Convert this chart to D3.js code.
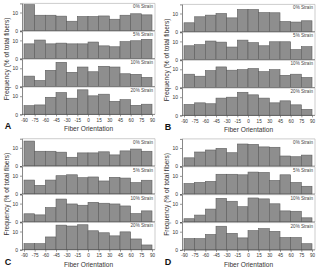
<!DOCTYPE html>
<html>
<head>
<meta charset="utf-8">
<script src="https://cdn.jsdelivr.net/npm/d3@7"></script>
<style>
  body { margin: 0; background: #fff; }
  svg { display: block; font-family: "Liberation Sans", Arial, sans-serif; }
</style>
</head>
<body>
<svg id="svg" width="320" height="269"></svg>
<script>
const $svg = d3.select('#svg')

// data (% of total fibres per 15 degree bin)
const binStarts = [-90, -75, -60, -45, -30, -15, 0, 15, 30, 45, 60, 75]
const orientTicks = [-90, -75, -60, -45, -30, -15, 0, 15, 30, 45, 60, 75, 90]
const strainLabels = ['0% Strain', '5% Strain', '10% Strain', '20% Strain']
const yTicks = [0, 10]
const panelLetters = ['A', 'B', 'C', 'D']

const panelA = [
	[14.3, 8.5, 8.5, 8.0, 5.2, 7.8, 7.8, 8.1, 6.3, 8.5, 9.3, 8.7],
	[8.1, 10.2, 8.1, 8.5, 8.1, 8.1, 9.1, 7.0, 6.5, 9.3, 9.8, 10.6],
	[5.7, 3.3, 8.9, 13.3, 7.8, 10.7, 8.1, 11.1, 10.7, 7.0, 6.7, 5.0],
	[4.8, 5.2, 9.4, 12.0, 8.9, 13.5, 10.2, 11.1, 7.2, 8.1, 5.0, 5.6],
]
const panelB = [
	[4.9, 8.2, 9.1, 10.0, 7.6, 12.2, 12.2, 10.5, 10.4, 5.6, 5.3, 6.0],
	[7.6, 8.2, 10.2, 9.6, 6.9, 10.7, 9.3, 7.6, 9.8, 9.8, 5.5, 7.1],
	[7.3, 6.2, 9.3, 11.3, 9.5, 9.8, 10.4, 8.7, 9.8, 6.7, 7.3, 5.5],
	[6.0, 6.9, 6.4, 9.5, 10.0, 12.7, 11.3, 9.5, 6.9, 8.0, 5.8, 3.3],
]
const panelC = [
	[13.7, 8.1, 8.1, 7.6, 4.8, 7.2, 7.2, 7.8, 6.1, 8.3, 9.3, 8.1],
	[7.6, 4.7, 7.6, 10.0, 10.5, 8.9, 9.3, 7.1, 9.1, 8.7, 6.2, 7.5],
	[4.4, 3.8, 7.8, 12.5, 9.8, 9.1, 10.7, 10.2, 9.8, 8.7, 4.5, 6.0],
	[3.3, 3.3, 7.0, 13.5, 13.0, 13.7, 10.4, 9.3, 7.6, 9.8, 5.9, 2.6],
]
const panelD = [
	[4.6, 7.8, 8.9, 9.8, 7.4, 12.2, 12.0, 10.6, 10.4, 5.6, 5.2, 6.1],
	[5.8, 6.4, 7.0, 10.9, 10.9, 10.6, 12.1, 11.9, 7.5, 10.6, 6.4, 4.3],
	[1.8, 3.8, 7.1, 13.0, 11.4, 8.4, 13.2, 12.7, 10.0, 6.1, 5.9, 2.3],
	[6.2, 6.2, 8.5, 13.0, 9.1, 6.6, 10.6, 11.7, 10.2, 6.8, 6.8, 3.4],
]
const panelData = [panelA, panelB, panelC, panelD]

// layout
const panelPos = [
	{ left: 22, base: 30.7 },
	{ left: 182, base: 31.7 },
	{ left: 22, base: 166 },
	{ left: 182, base: 166.2 },
]
const PLOT_W = 133
const ROW_STEP = 27.9
const ROW_H = 27.3

const drawPanel = (rows, pos, letter) => {
	const g = $svg.append('g').attr('transform', `translate(${pos.left},0)`)

	const x = d3.scaleLinear().domain([-90, 90]).range([2, PLOT_W - 3])
	const y = d3.scaleLinear().domain([0, 15]).range([0, -ROW_H])

	rows.forEach((vals, i) => {
		const base = pos.base + i * ROW_STEP
		const row = g.append('g').attr('transform', `translate(0,${base})`)

		// frame: top and right edges light grey
		row.append('path')
			.attr('d', `M0,${-ROW_H}H${PLOT_W}V0`)
			.attr('fill', 'none')
			.attr('stroke', '#b8b8b8')
			.attr('stroke-width', 0.7)

		row.selectAll('rect.bar')
			.data(vals)
			.join('rect')
			.attr('class', 'bar')
			.attr('x', (d, j) => x(binStarts[j]))
			.attr('width', (d, j) => x(binStarts[j] + 15) - x(binStarts[j]))
			.attr('y', d => y(d))
			.attr('height', d => -y(d))
			.attr('fill', '#8e8e8e')
			.attr('stroke', '#5e5e5e')
			.attr('stroke-width', 0.6)

		// y axis
		const yAxis = row.append('g').call(d3.axisLeft(y).tickValues(yTicks).tickSize(2).tickPadding(2))
		yAxis.select('.domain').attr('stroke', '#555').attr('stroke-width', 0.7)
		yAxis.selectAll('.tick line').attr('stroke', '#555').attr('stroke-width', 0.6)
		yAxis.selectAll('text').attr('font-size', 5).attr('fill', '#333')

		// baseline axis, labels only under the last row
		const xAxis = row.append('g')
			.call(d3.axisBottom(x).tickValues(orientTicks).tickSize(i === 3 ? 2 : 0).tickFormat(d => i === 3 ? String(d) : ''))
		xAxis.select('.domain').attr('d', `M0,0H${PLOT_W}`).attr('stroke', '#555').attr('stroke-width', 0.7)
		xAxis.selectAll('.tick line').attr('stroke', '#555').attr('stroke-width', 0.6)
		xAxis.selectAll('text').attr('font-size', 4.6).attr('fill', '#333').attr('dy', '0.55em')

		row.append('text')
			.attr('x', PLOT_W - 2)
			.attr('y', -ROW_H + 5)
			.attr('text-anchor', 'end')
			.attr('font-size', 4.6)
			.attr('fill', '#444')
			.text(strainLabels[i])
	})

	const lastBase = pos.base + 3 * ROW_STEP

	g.append('text')
		.attr('x', PLOT_W / 2)
		.attr('y', lastBase + 17)
		.attr('text-anchor', 'middle')
		.attr('font-size', 6.6)
		.attr('fill', '#333')
		.text('Fiber Orientation')

	const midY = (pos.base - ROW_H + lastBase) / 2
	g.append('text')
		.attr('transform', `translate(-13,${midY}) rotate(-90)`)
		.attr('text-anchor', 'middle')
		.attr('font-size', 6.6)
		.attr('fill', '#333')
		.text('Frequency (% of total fibers)')

	g.append('text')
		.attr('x', -14)
		.attr('y', lastBase + 15)
		.attr('text-anchor', 'middle')
		.attr('font-size', 9)
		.attr('font-weight', 'bold')
		.attr('fill', '#111')
		.text(letter)
}

panelData.forEach((rows, k) => drawPanel(rows, panelPos[k], panelLetters[k]))
</script>
</body>
</html>
